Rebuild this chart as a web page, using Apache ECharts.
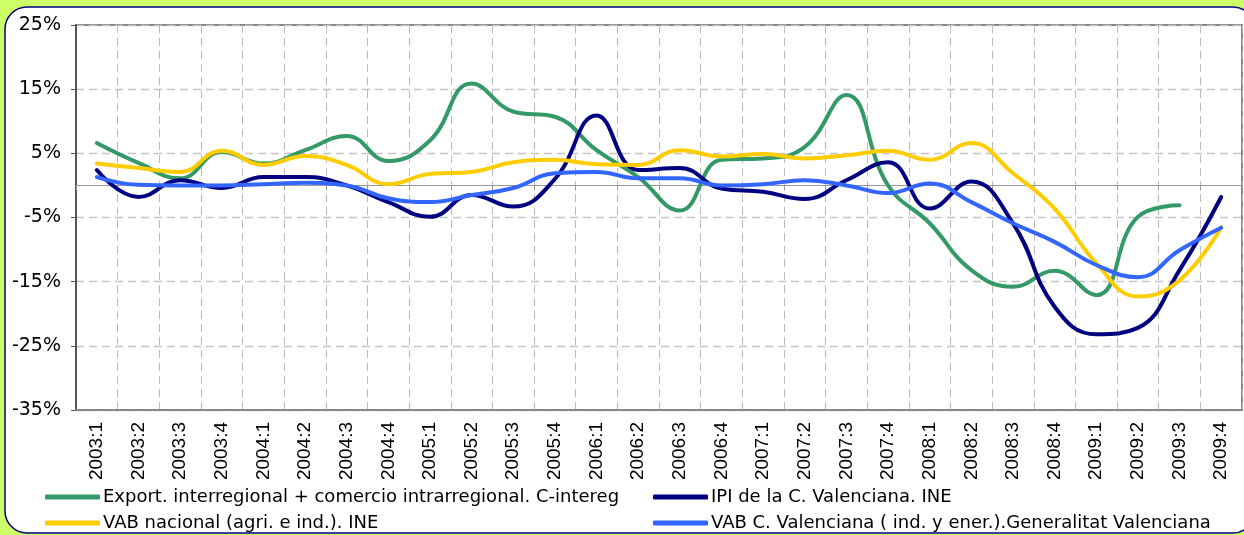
<!DOCTYPE html>
<html>
<head>
<meta charset="utf-8">
<script src="https://cdn.jsdelivr.net/npm/echarts@6/dist/echarts.min.js"></script>
<style>
html,body{margin:0;padding:0;background:#CCFF66;}
#chart{width:1244px;height:535px;}
</style>
</head>
<body>
<div id="chart"></div>
<script>
const categories = ['2003:1','2003:2','2003:3','2003:4','2004:1','2004:2','2004:3','2004:4',
  '2005:1','2005:2','2005:3','2005:4','2006:1','2006:2','2006:3','2006:4',
  '2007:1','2007:2','2007:3','2007:4','2008:1','2008:2','2008:3','2008:4',
  '2009:1','2009:2','2009:3','2009:4'];

const seriesNames = [
  'Export. interregional + comercio intrarregional. C-intereg',
  'IPI de la C. Valenciana. INE',
  'VAB nacional (agri. e ind.). INE',
  'VAB C. Valenciana ( ind. y ener.).Generalitat Valenciana'
];

const exportInter = [6.6, 3.5, 1.1, 5.2, 3.4, 5.5, 7.7, 3.8, 7.0, 15.9, 11.5, 10.7, 5.5, 1.3,
  -3.9, 4.0, 4.2, 6.0, 14.1, 0.0, -5.9, -13.2, -15.8, -13.3, -17.1, -4.9, -3.1, null];
const ipiCV = [2.4, -1.8, 0.8, -0.4, 1.3, 1.3, 0.0, -2.6, -4.9, -1.5, -3.3, 1.0, 10.9, 2.4,
  2.7, -0.5, -1.0, -2.1, 0.8, 3.6, -3.6, 0.6, -5.9, -18.9, -23.2, -22.2, -13.2, -1.8];
const vabNacional = [3.4, 2.7, 2.1, 5.4, 3.2, 4.6, 3.2, 0.2, 1.8, 2.1, 3.6, 4.0, 3.3, 3.2,
  5.5, 4.5, 4.9, 4.2, 4.7, 5.4, 4.0, 6.6, 1.9, -3.6, -12.1, -17.3, -14.8, -6.5];
const vabCV = [1.3, 0.1, 0.0, 0.0, 0.2, 0.4, 0.0, -2.0, -2.6, -1.5, -0.4, 1.9, 2.1, 1.1,
  1.1, 0.0, 0.2, 0.8, 0.0, -1.2, 0.3, -2.6, -5.9, -8.8, -12.4, -14.3, -10.1, -6.6];

const yTicks = {min: -35, max: 25, interval: 10};
const colors = ['#339966', '#000080', '#FFCC00', '#3366FF'];
const FONT = 'Arial, "Liberation Sans", sans-serif';
const WIDE = '"DejaVu Sans", Verdana, sans-serif';

const chart = echarts.init(document.getElementById('chart'), null, {renderer: 'canvas'});

function mkSeries(name, data, color) {
  return {
    name: name, type: 'line', data: data, smooth: 0.45, showSymbol: false,
    symbol: 'none', connectNulls: false,
    lineStyle: {color: color, width: 4, cap: 'round', join: 'round'},
    itemStyle: {color: color}, xAxisIndex: 0, yAxisIndex: 0
  };
}

function mkLegend(name, left, top) {
  return {
    data: [name], left: left, top: top, padding: 0, itemGap: 0,
    icon: 'roundRect', itemWidth: 55, itemHeight: 5,
    textStyle: {fontFamily: WIDE, fontSize: 18, lineHeight: 20, color: '#000', padding: [0, 0, 0, -2]},
    selectedMode: false
  };
}

chart.setOption({
  animation: false,
  backgroundColor: '#CCFF66',
  graphic: [{
    type: 'rect', z: -10, silent: true,
    shape: {x: 5, y: 7, width: 1250, height: 526, r: [22, 22, 22, 22]},
    style: {fill: '#ffffff', stroke: '#000080', lineWidth: 1.5}
  }],
  grid: {left: 76, top: 25, right: 2, bottom: 125, show: true,
    borderColor: '#888888', borderWidth: 2, backgroundColor: 'transparent'},
  legend: [
    mkLegend(seriesNames[0], 45, 487),
    mkLegend(seriesNames[1], 653, 487),
    mkLegend(seriesNames[2], 45, 513),
    mkLegend(seriesNames[3], 653, 513)
  ],
  xAxis: [{
    type: 'category', data: categories, boundaryGap: true, position: 'bottom',
    axisLine: {show: true, onZero: false, lineStyle: {color: '#888888', width: 2}},
    axisTick: {show: false},
    axisLabel: {rotate: 90, fontFamily: FONT, fontSize: 19, color: '#000', margin: 12, interval: 0},
    splitLine: {show: true, interval: 0, lineStyle: {color: '#bbbbbb', type: [8, 5], width: 1}}
  }, {
    type: 'category', data: categories, boundaryGap: true, position: 'bottom',
    axisLine: {show: true, onZero: true, lineStyle: {color: '#999999', width: 1.2}},
    axisTick: {show: true, length: 5, interval: 0, lineStyle: {color: '#999999'}},
    axisLabel: {show: false},
    splitLine: {show: false}
  }],
  yAxis: {
    type: 'value', min: yTicks.min, max: yTicks.max, interval: yTicks.interval,
    axisLine: {show: true, lineStyle: {color: '#555555', width: 2}},
    axisTick: {show: true, length: 5, lineStyle: {color: '#555555'}},
    axisLabel: {formatter: v => v + '%', fontFamily: WIDE, fontSize: 19, color: '#000', margin: 15},
    splitLine: {show: true, lineStyle: {color: '#c4c4c4', type: [8, 5], width: 1.3}}
  },
  series: [
    mkSeries(seriesNames[0], exportInter, colors[0]),
    mkSeries(seriesNames[1], ipiCV, colors[1]),
    mkSeries(seriesNames[2], vabNacional, colors[2]),
    mkSeries(seriesNames[3], vabCV, colors[3])
  ]
});
</script>
</body>
</html>
